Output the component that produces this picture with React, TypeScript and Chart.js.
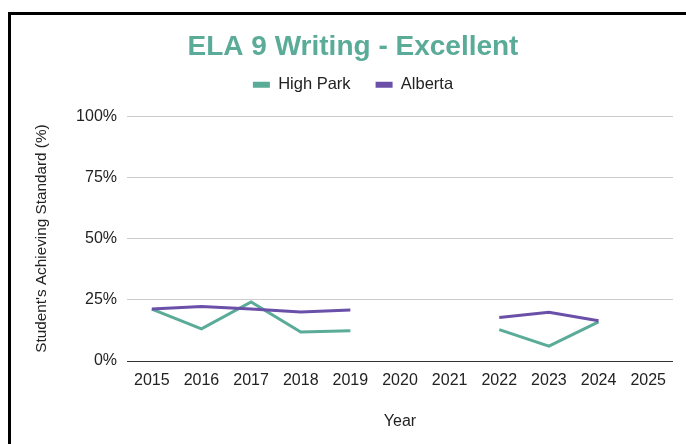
import React, { useEffect, useRef } from "react";
import { Chart, registerables } from "chart.js";

Chart.register(...registerables);

const years = ["2015", "2016", "2017", "2018", "2019", "2020", "2021", "2022", "2023", "2024", "2025"];
const highPark = [21.2, 13.1, 24.1, 11.8, 12.4, null, null, 12.8, 6.1, 16.0, null];
const alberta = [21.2, 22.3, 21.2, 20.0, 20.8, null, null, 17.8, 19.9, 16.4, null];
const yTicks = [0, 25, 50, 75, 100];

const TEAL = "#5aab98";
const PURPLE = "#6a50a8";
const FONT = "'Liberation Sans', Arial, sans-serif";

export default function App() {
  const ref = useRef<HTMLCanvasElement>(null);

  useEffect(() => {
    if (!ref.current) return;
    const chart = new Chart(ref.current, {
      type: "line",
      data: {
        labels: years,
        datasets: [
          {
            label: "High Park",
            data: highPark,
            borderColor: TEAL,
            backgroundColor: TEAL,
            borderWidth: 3,
            pointRadius: 0,
            spanGaps: false,
            order: 1,
          },
          {
            label: "Alberta",
            data: alberta,
            borderColor: PURPLE,
            backgroundColor: PURPLE,
            borderWidth: 3,
            pointRadius: 0,
            spanGaps: false,
            order: 0,
          },
        ],
      },
      options: {
        responsive: false,
        animation: false,
        layout: { padding: { left: 0, right: 0, top: 0, bottom: 22 } },
        font: { family: FONT },
        plugins: {
          tooltip: { enabled: false },
          title: {
            display: true,
            text: "ELA 9 Writing - Excellent",
            color: TEAL,
            font: { family: FONT, size: 28, weight: "bold", lineHeight: 1.2 },
            padding: { top: 15, bottom: -12 },
          },
          legend: {
            display: true,
            position: "top",
            labels: {
              color: "#222",
              font: { family: FONT, size: 16.5 },
              boxWidth: 17,
              boxHeight: 6,
              padding: 25,
              sort: (a: any, b: any) => a.datasetIndex - b.datasetIndex,
              generateLabels: (c: any) => {
                const items = Chart.defaults.plugins.legend.labels.generateLabels(c);
                return items.map((it: any) => ({ ...it, lineWidth: 0 }));
              },
            },
          },
          subtitle: {
            display: true,
            text: "",
            position: "top",
            weight: 500,
            font: { size: 1, lineHeight: 1 },
            padding: { top: 12, bottom: 0 },
          } as any,
        },
        scales: {
          x: {
            type: "category",
            offset: true,
            grid: { display: false, drawTicks: false },
            border: { display: false },
            ticks: {
              color: "#222",
              font: { family: FONT, size: 16 },
              padding: 9.5,
              autoSkip: false,
              maxRotation: 0,
            },
            title: {
              display: true,
              text: "Year",
              color: "#222",
              font: { family: FONT, size: 16 },
              padding: { top: 0, bottom: 1.4 },
            },
            afterFit: (s: any) => {
              s.height = 72;
            },
          },
          y: {
            min: 0,
            max: 100,
            grid: {
              drawTicks: false,
              color: (ctx: any) => (ctx.tick && ctx.tick.value === 0 ? "#333" : "#ccc"),
              lineWidth: 1,
            },
            border: { display: false },
            afterBuildTicks: (s: any) => {
              s.ticks = yTicks.map((v) => ({ value: v }));
            },
            ticks: {
              color: "#222",
              font: { family: FONT, size: 16 },
              padding: 10,
              callback: (v: any) => v + "%",
            },
            title: {
              display: true,
              text: "Student's Achieving Standard (%)",
              color: "#222",
              font: { family: FONT, size: 15.3 },
              padding: { top: 21.8, bottom: 0 },
            },
            afterFit: (s: any) => {
              s.width = 116;
            },
          },
          yRight: {
            type: "linear",
            position: "right",
            display: true,
            grid: { display: false, drawTicks: false },
            border: { display: false },
            ticks: { display: false },
            afterFit: (s: any) => {
              s.width = 22;
            },
          },
        },
      },
    });
    return () => chart.destroy();
  }, []);

  return (
    <div style={{ position: "fixed", left: 0, top: 0, width: 686, height: 444, overflow: "hidden", background: "#fff" }}>
      <div
        style={{
          position: "absolute",
          left: 8,
          top: 12,
          width: 684,
          height: 440,
          border: "3px solid #000",
          background: "#fff",
        }}
      >
        <canvas ref={ref} width={684} height={440} style={{ display: "block", width: 684, height: 440 }} />
      </div>
    </div>
  );
}
